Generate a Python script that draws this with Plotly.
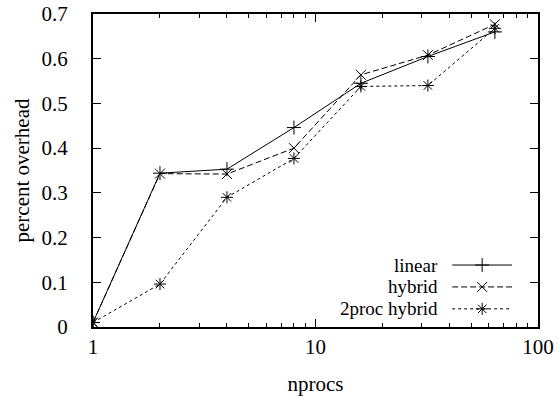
import plotly.graph_objects as go

nprocs = [1, 2, 4, 8, 16, 32, 64]
linear = [0.01, 0.344, 0.353, 0.446, 0.545, 0.605, 0.660]
hybrid = [0.01, 0.343, 0.342, 0.400, 0.564, 0.608, 0.677]
two_proc_hybrid = [0.01, 0.096, 0.290, 0.377, 0.538, 0.540, 0.668]

series_names = ["linear", "hybrid", "2proc hybrid"]
series_data = [linear, hybrid, two_proc_hybrid]
symbols = ["cross-thin", "x-thin", "asterisk-open"]
dashes = ["solid", "6px,3px", "3px,3px"]

FONT = "Liberation Serif"
FS = 21
LFS = 19
fig = go.Figure()

for name, ys, sym, dsh in zip(series_names, series_data, symbols, dashes):
    fig.add_trace(go.Scatter(
        x=nprocs, y=ys, mode="lines+markers", name=name,
        line=dict(color="black", width=1, dash=dsh),
        marker=dict(symbol=sym, size=10, color="black",
                    line=dict(color="black", width=1)),
        showlegend=False,
    ))

# gnuplot-style legend: text right aligned, sample line to the right
leg_y = [0.198, 0.128, 0.058]
for name, sym, dsh, ly in zip(series_names, symbols, dashes, leg_y):
    fig.add_trace(go.Scatter(
        x=[0.0, 1.0], y=[ly, ly], mode="lines", xaxis="x2", yaxis="y2",
        line=dict(color="black", width=1, dash=dsh), showlegend=False,
        hoverinfo="skip"))
    fig.add_trace(go.Scatter(
        x=[0.5], y=[ly], mode="markers", xaxis="x2", yaxis="y2",
        marker=dict(symbol=sym, size=10, color="black",
                    line=dict(color="black", width=1)),
        showlegend=False, hoverinfo="skip"))
    fig.add_annotation(text=name, xref="paper", yref="paper", x=0.777, y=ly,
                       xanchor="right", yanchor="middle", showarrow=False,
                       borderpad=0,
                       font=dict(family=FONT, size=LFS, color="black"))

fig.update_layout(
    width=558, height=396,
    margin=dict(l=93, r=20, t=14, b=69),
    paper_bgcolor="white", plot_bgcolor="rgba(0,0,0,0)",
    font=dict(family=FONT, size=FS, color="black"),
    xaxis=dict(
        type="log", range=[0, 2], dtick=1, automargin=False,
        ticks="inside", ticklen=8, tickwidth=1, tickcolor="black",
        minor=dict(ticks="inside", ticklen=4, tickwidth=1, tickcolor="black",
                   dtick="D1", showgrid=False),
        showline=True, linecolor="black", linewidth=1.5, mirror="ticks",
        showgrid=False, zeroline=False, ticklabelstandoff=0,
        tickfont=dict(family=FONT, size=FS),
        title=dict(text="nprocs", font=dict(family=FONT, size=FS), standoff=18),
    ),
    yaxis=dict(
        range=[0, 0.7], dtick=0.1, tick0=0, automargin=False,
        ticks="inside", ticklen=8, tickwidth=1, tickcolor="black",
        showline=True, linecolor="black", linewidth=1.5, mirror="ticks",
        showgrid=False, zeroline=False, ticklabelstandoff=15,
        ticksuffix="\u2009",
        tickfont=dict(family=FONT, size=FS),
        title=dict(text="percent overhead", font=dict(family=FONT, size=FS), standoff=6),
    ),
    xaxis2=dict(domain=[0.807, 0.942], range=[0, 1], visible=False,
                anchor="y2", fixedrange=True),
    yaxis2=dict(domain=[0, 1], range=[0, 1], visible=False,
                anchor="x2", fixedrange=True),
)

fig.write_html("out.html")
